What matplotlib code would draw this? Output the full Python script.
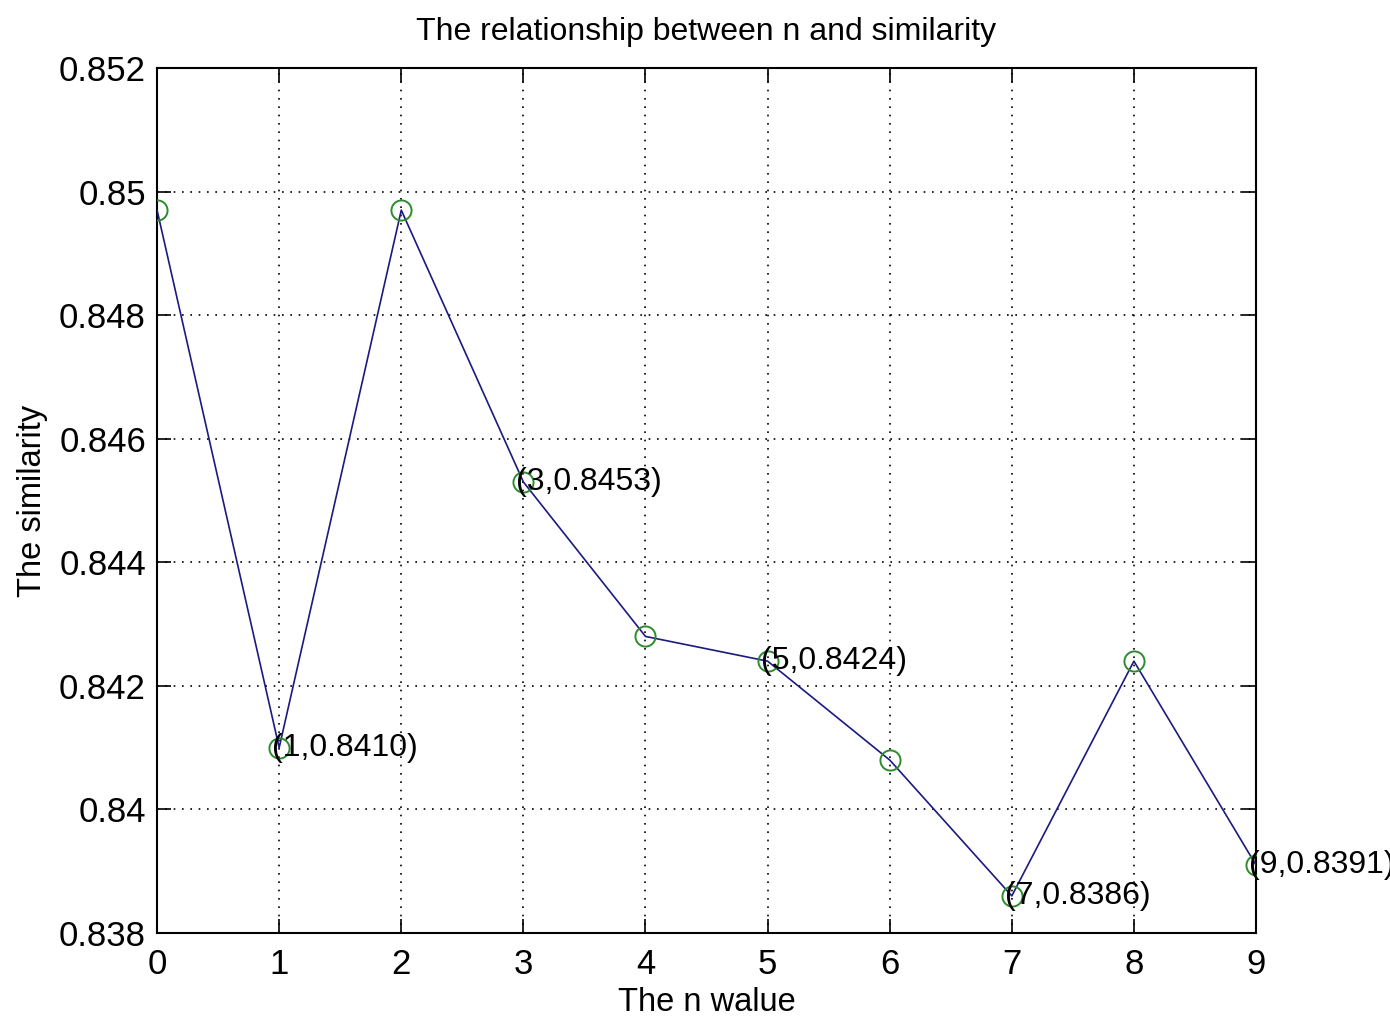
import matplotlib
matplotlib.use('Agg')
import matplotlib.pyplot as plt
import numpy as np

n_values = [0, 1, 2, 3, 4, 5, 6, 7, 8, 9]
similarity = [0.8497, 0.8410, 0.8497, 0.8453, 0.8428, 0.8424, 0.8408, 0.8386, 0.8424, 0.8391]
labelled = [1, 3, 5, 7, 9]
y_ticks = [0.838, 0.84, 0.842, 0.844, 0.846, 0.848, 0.85, 0.852]
y_tick_labels = ['0.838', '0.84', '0.842', '0.844', '0.846', '0.848', '0.85', '0.852']

plt.rcParams['font.family'] = ['Liberation Sans', 'DejaVu Sans']

fig = plt.figure(figsize=(13.9, 10.18), dpi=100)
ax = fig.add_axes([0.113, 0.0835, 0.7906, 0.8497])

ax.plot(n_values, similarity, color='#1a1a80', linewidth=1.2, zorder=3)
ax.plot(n_values, similarity, linestyle='none', marker='o', markersize=14.5,
        markerfacecolor='none', markeredgecolor='#2e8b2e', markeredgewidth=1.4, zorder=4)

# the last label runs off the right edge, as in the original
for i in labelled:
    ax.annotate('(%d,%.4f)' % (n_values[i], similarity[i]),
                xy=(n_values[i], similarity[i]), xytext=(-5, 0),
                textcoords='offset points', fontsize=23,
                ha='left', va='center', annotation_clip=False, zorder=5)

ax.set_xlim(0, 9)
ax.set_ylim(0.838, 0.852)
ax.set_xticks(n_values)
ax.set_yticks(y_ticks)
ax.set_yticklabels(y_tick_labels)
ax.grid(True, color='black', linestyle=(0, (1, 4)), linewidth=1.2)
ax.tick_params(direction='in', length=10, width=1.2, labelsize=25,
               top=True, right=True, pad=8)
ax.tick_params(axis='x', pad=11)
for s in ax.spines.values():
    s.set_linewidth(1.5)

ax.set_xlabel('The n walue', fontsize=23.5, labelpad=4)
ax.set_ylabel('The similarity', fontsize=23.5, labelpad=8)
ax.set_title('The relationship between n and similarity', fontsize=23, pad=20)

fig.savefig('out.png', dpi=100)
